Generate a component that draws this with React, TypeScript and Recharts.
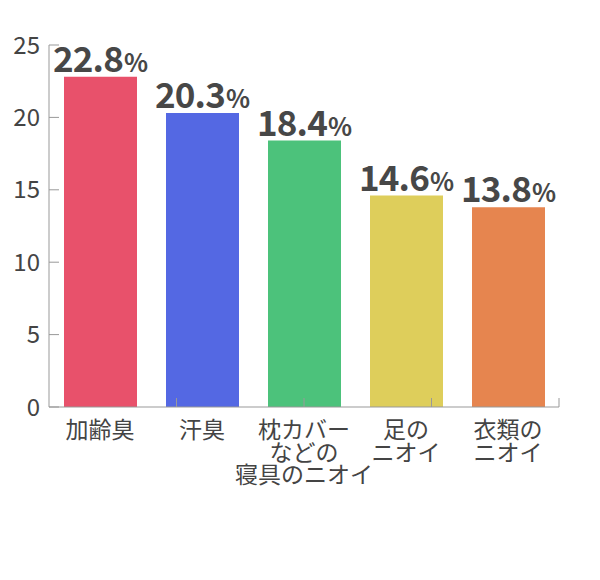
import React from "react"
import { BarChart, Bar, XAxis, YAxis, Cell, LabelList, ReferenceLine } from "recharts"

const categories = [
  "加齢臭",
  "汗臭",
  "枕カバー\nなどの\n寝具のニオイ",
  "足の\nニオイ",
  "衣類の\nニオイ",
]
const values = [22.8, 20.3, 18.4, 14.6, 13.8]
const colors = ["#E8516B", "#5468E3", "#4CC27B", "#DECE5B", "#E6854F"]
const yTicks = [0, 5, 10, 15, 20, 25]
const boundaryTicks = [1, 2, 3, 4, 5]

const data = categories.map((name, i) => ({ name, value: values[i] }))

const FONT = '"Noto Sans CJK JP", "Noto Sans", sans-serif'

const CategoryTick = (props: any) => {
  const { x, y, payload } = props
  const lines = String(payload.value).split("\n")
  return (
    <text x={x} y={y} textAnchor="middle" fill="#444" fontSize={23} fontFamily={FONT}>
      {lines.map((line, i) => (
        <tspan key={i} x={x} dy={i === 0 ? 31 : 22.5}>
          {line}
        </tspan>
      ))}
    </text>
  )
}

const ValueLabel = (props: any) => {
  const { x, y, width, value } = props
  return (
    <text
      x={Number(x) + Number(width) / 2}
      y={Number(y) - 5}
      textAnchor="middle"
      fill="#474747"
      fontFamily={FONT}
      fontWeight={700}
    >
      <tspan fontSize={35} letterSpacing={-0.8}>{Number(value).toFixed(1)}</tspan>
      <tspan fontSize={25} dx={1}>%</tspan>
    </text>
  )
}

export default function App() {
  return (
    <div style={{ position: "absolute", left: 0, top: 0, width: 600, height: 580, background: "#fff" }}>
      <BarChart
        width={600}
        height={580}
        data={data}
        margin={{ top: 45, right: 41, bottom: 83, left: 0 }}
      >
        <XAxis xAxisId="bounds" type="number" domain={[0, 5]} hide />
        <XAxis
          dataKey="name"
          height={90}
          interval={0}
          tickSize={0}
          tickMargin={0}
          axisLine={{ stroke: "#999" }}
          tickLine={false}
          tick={<CategoryTick />}
        />
        <YAxis
          domain={[0, 25]}
          ticks={yTicks}
          width={49}
          tickSize={-10}
          tickMargin={19}
          axisLine={{ stroke: "#999" }}
          tickLine={{ stroke: "#999" }}
          tick={{ fill: "#444", fontSize: 24, fontFamily: FONT }}
        />
        <Bar dataKey="value" barSize={73} isAnimationActive={false}>
          {data.map((d, i) => (
            <Cell key={d.name} fill={colors[i]} />
          ))}
          <LabelList dataKey="value" content={<ValueLabel />} />
        </Bar>
        {boundaryTicks.map((b) => (
          <ReferenceLine
            key={b}
            xAxisId="bounds"
            segment={[
              { x: b, y: 0 },
              { x: b, y: 0.62 },
            ]}
            stroke="#999"
          />
        ))}
      </BarChart>
    </div>
  )
}
